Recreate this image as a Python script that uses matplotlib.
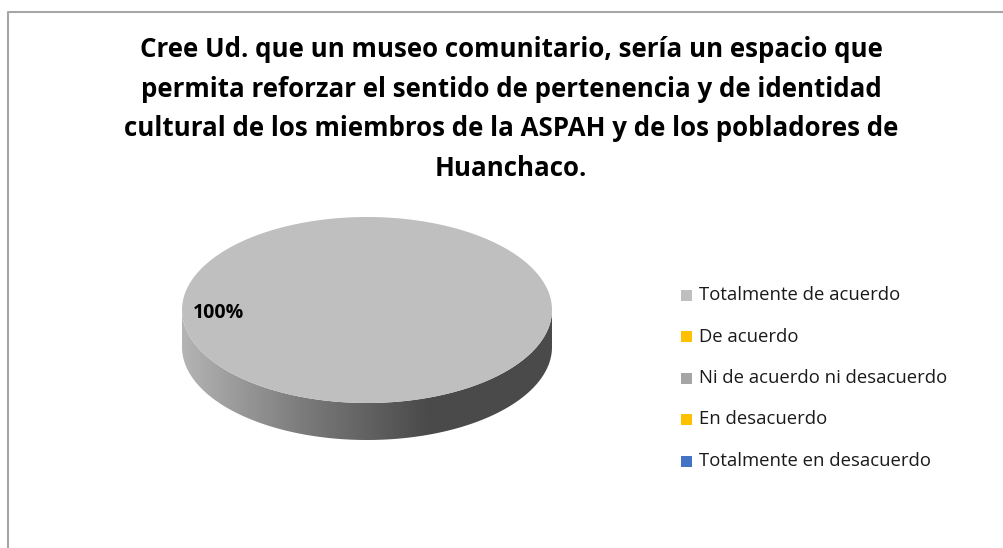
import numpy as np
import matplotlib
matplotlib.use("Agg")
import matplotlib.pyplot as plt
from matplotlib.patches import Polygon, Rectangle
from matplotlib.colors import LinearSegmentedColormap

title = ("Cree Ud. que un museo comunitario, sería un espacio que\n"
         "permita reforzar el sentido de pertenencia y de identidad\n"
         "cultural de los miembros de la ASPAH y de los pobladores de\n"
         "Huanchaco.")
labels = ["Totalmente de acuerdo", "De acuerdo", "Ni de acuerdo ni desacuerdo",
          "En desacuerdo", "Totalmente en desacuerdo"]
values = [100, 0, 0, 0, 0]
colors = ["#bfbfbf", "#ffc000", "#a5a5a5", "#ffc000", "#4472c4"]

fig = plt.figure(figsize=(10.04, 5.48), dpi=100)
ax = fig.add_axes([0, 0, 1, 1])
ax.set_xlim(0, 1004)
ax.set_ylim(548, 0)
ax.axis("off")

# chart border (only top and left visible)
ax.plot([8, 8, 1004], [548, 11.5, 11.5], color="#a6a6a6", lw=1.5, solid_capstyle="butt")

ax.text(511, 109, title, ha="center", va="center", fontsize=18.6,
        fontweight="bold", family="Open Sans", linespacing=1.6, color="#000000")

# 3D-ish pie
cx, cy, a, b, depth = 367, 310, 185, 93, 37
total = float(sum(values))
start = 90.0
grad = LinearSegmentedColormap.from_list("side", ["#b4b4b4", "#7a7a7a", "#4a4a4a", "#4a4a4a"])
for v, c in zip(values, colors):
    if v <= 0:
        continue
    sweep = 360.0 * v / total
    th = np.radians(np.linspace(start, start - sweep, 400))
    xs = cx + a * np.cos(th)
    ys = cy - b * np.sin(th)
    # side wall, front half only
    front = np.radians(np.linspace(180, 360, 300))
    fx = cx + a * np.cos(front)
    fy = cy - b * np.sin(front)
    side = np.concatenate([np.column_stack([fx, fy]),
                           np.column_stack([fx[::-1], fy[::-1] + depth])])
    side_patch = Polygon(side, closed=True, facecolor="none", edgecolor="none")
    ax.add_patch(side_patch)
    g = np.linspace(0, 1, 256).reshape(1, -1)
    im = ax.imshow(g, cmap=grad, extent=[cx - a, cx + a, cy + b + depth, cy], aspect="auto",
                   zorder=1)
    im.set_clip_path(side_patch)
    pts = np.column_stack([xs, ys])
    if sweep < 360:
        pts = np.vstack([[cx, cy], pts])
    ax.add_patch(Polygon(pts, closed=True, facecolor=c, edgecolor="none", zorder=2))
    start -= sweep

ax.text(193, 313, "%d%%" % values[0], ha="left", va="center", fontsize=14,
        fontweight="bold", family="Open Sans", zorder=3)

# legend
for i, (lab, c) in enumerate(zip(labels, colors)):
    y = 295 + i * 41.5
    ax.add_patch(Rectangle((681.5, y - 5.5), 11, 11, facecolor=c, edgecolor="none"))
    ax.text(699, y, lab, ha="left", va="center", fontsize=13.3, family="Open Sans",
            color="#1a1a1a")

fig.savefig("out.png", dpi=100)
